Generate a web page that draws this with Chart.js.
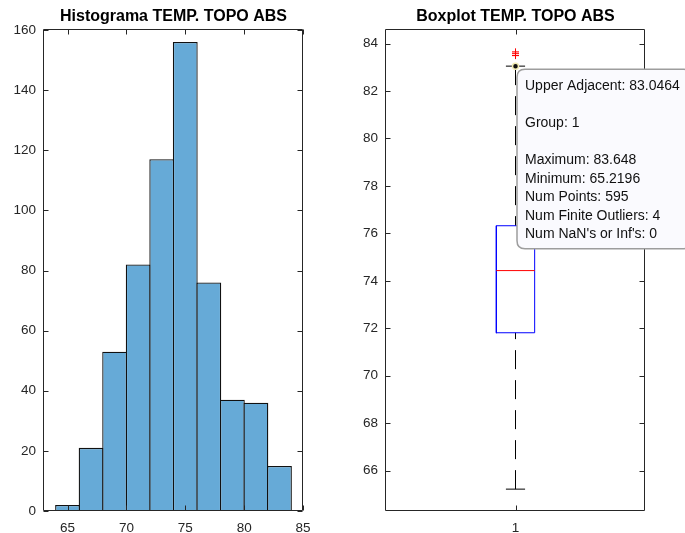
<!DOCTYPE html>
<html>
<head>
<meta charset="utf-8">
<title>TEMP. TOPO ABS</title>
<script src="https://cdn.jsdelivr.net/npm/chart.js@4.4.1/dist/chart.umd.min.js"></script>
<style>
  html, body { margin: 0; padding: 0; background: #ffffff; width: 685px; height: 533px; overflow: hidden; }
  #hist { position: absolute; left: 0; top: 0; }
  #box  { position: absolute; left: 340px; top: 0; }
</style>
</head>
<body>
<canvas id="hist" width="340" height="533"></canvas>
<canvas id="box" width="420" height="533"></canvas>
<script>
// ---- Histogram data ----
const binStarts = [64, 66, 68, 70, 72, 74, 76, 78, 80, 82];
const binWidth = 2;
const binCounts = [2, 21, 53, 82, 117, 156, 76, 37, 36, 15];
const histXTicks = [65, 70, 75, 80, 85];
const histYTicks = [0, 20, 40, 60, 80, 100, 120, 140, 160];
const histXRange = [63, 85];
const histYRange = [0, 160];

// ---- Boxplot data ----
const boxGroups = [1];
const boxQuartiles = [71.81, 74.43, 76.32];      // Q1, median, Q3
const whiskerEnds = [65.2196, 83.0464];           // lower / upper adjacent
const outlierValues = [83.648, 83.585, 83.50, 83.49];
const boxYTicks = [66, 68, 70, 72, 74, 76, 78, 80, 82, 84];
const boxYRange = [64.298, 84.569];
const boxXRange = [0.5, 1.5];

const FONT = "'Liberation Sans', Arial, Helvetica, sans-serif";
const AXIS_COLOR = '#262626';

Chart.defaults.font.family = FONT;

function fixedTicks(values) {
  return function (scale) { scale.ticks = values.map(v => ({ value: v })); };
}

// Box around the plot area with inward tick marks on all four sides
const frame = {
  id: 'frame',
  afterDatasetsDraw(chart, args, opts) {
    const { ctx, chartArea: a } = chart;
    const xs = chart.scales.x, ys = chart.scales.y;
    const snap = v => Math.round(v) - 0.5;
    const L = snap(a.left), R = snap(a.right), T = snap(a.top), B = snap(a.bottom);
    const len = opts.tickLength;
    ctx.save();
    ctx.strokeStyle = opts.color;
    ctx.lineWidth = 1;
    ctx.beginPath();
    ctx.rect(L, T, R - L, B - T);
    xs.ticks.forEach(t => {
      const x = snap(xs.getPixelForValue(t.value)) + 1;
      ctx.moveTo(x, B); ctx.lineTo(x, B - len);
      ctx.moveTo(x, T); ctx.lineTo(x, T + len);
    });
    ys.ticks.forEach(t => {
      const y = snap(ys.getPixelForValue(t.value)) + 1;
      ctx.moveTo(L, y); ctx.lineTo(L + len, y);
      ctx.moveTo(R, y); ctx.lineTo(R - len, y);
    });
    ctx.stroke();
    ctx.restore();
  }
};

const tickFont = { family: FONT, size: 13.5 };
const titleOpts = text => ({
  display: true,
  fullSize: false,
  text: text,
  color: '#000000',
  font: { family: FONT, size: 16, weight: 'bold', lineHeight: 1.2 },
  padding: { top: 7, bottom: 3.8 }
});

// ---- Histogram ----
new Chart(document.getElementById('hist'), {
  type: 'bar',
  data: {
    datasets: [{
      data: binStarts.map((s, i) => ({ x: s + binWidth / 2, y: binCounts[i] })),
      backgroundColor: '#66aad7',
      borderColor: '#111111',
      borderWidth: 1.3,
      barPercentage: 1.055,
      categoryPercentage: 1,
      inflateAmount: 0
    }]
  },
  options: {
    responsive: false,
    animation: false,
    events: [],
    layout: { padding: { left: 0, right: 37, top: 0, bottom: 0 } },
    plugins: {
      legend: { display: false },
      tooltip: { enabled: false },
      title: titleOpts('Histograma TEMP. TOPO ABS'),
      frame: { color: AXIS_COLOR, tickLength: 5 }
    },
    scales: {
      x: {
        type: 'linear', min: histXRange[0], max: histXRange[1], offset: false,
        grid: { display: false, drawTicks: false, offset: false },
        border: { display: false },
        ticks: { color: AXIS_COLOR, font: tickFont, padding: 9.5, autoSkip: false, maxRotation: 0 },
        afterBuildTicks: fixedTicks(histXTicks),
        afterFit: s => { s.height = 22; }
      },
      y: {
        type: 'linear', min: histYRange[0], max: histYRange[1],
        grid: { display: false, drawTicks: false },
        border: { display: false },
        ticks: { color: AXIS_COLOR, font: tickFont, padding: 8, autoSkip: false },
        afterBuildTicks: fixedTicks(histYTicks),
        afterFit: s => { s.width = 44; }
      }
    }
  },
  plugins: [frame]
});

// ---- Boxplot ----
const tipPlugin = Chart.Tooltip || Chart.registry.getPlugin('tooltip');
tipPlugin.positioners.datatip = function (items) {
  if (!items.length) return false;
  const el = items[0].element;
  return { x: el.x + 9.5, y: el.y + 3, xAlign: 'left', yAlign: 'top' };
};

const cx = boxGroups[0];
const halfBox = 0.074;
const halfCap = 0.037;
const [q1, med, q3] = boxQuartiles;
const [lowAdj, upAdj] = whiskerEnds;
const numPoints = binCounts.reduce((a, b) => a + b, 0);

const datatipLines = [
  'Upper Adjacent: ' + upAdj,
  '',
  'Group: ' + cx,
  '',
  'Maximum: ' + Math.max(...outlierValues),
  'Minimum: ' + lowAdj,
  'Num Points: ' + numPoints,
  'Num Finite Outliers: ' + outlierValues.length,
  "Num NaN's or Inf's: 0"
];

const lineSet = (label, pts, color, extra) => Object.assign({
  label: label, data: pts, showLine: true, borderColor: color, borderWidth: 1,
  pointRadius: 0, pointHoverRadius: 0, tension: 0, fill: false
}, extra || {});

const boxChart = new Chart(document.getElementById('box'), {
  type: 'scatter',
  data: {
    datasets: [
      {
        label: 'datatip', data: [{ x: cx, y: upAdj }], showLine: false,
        pointRadius: 3, pointBackgroundColor: '#111111',
        pointBorderColor: '#f2ecb4', pointBorderWidth: 1.5
      },
      {
        label: 'outliers', data: outlierValues.map(v => ({ x: cx, y: v })), showLine: false,
        pointStyle: 'cross', pointRadius: 3.5, pointBorderColor: '#ff0000',
        pointBackgroundColor: '#ff0000', pointBorderWidth: 1
      },
      lineSet('median', [{ x: cx - halfBox, y: med }, { x: cx + halfBox, y: med }], '#ff0000'),
      lineSet('box', [
        { x: cx - halfBox, y: q1 }, { x: cx + halfBox, y: q1 },
        { x: cx + halfBox, y: q3 }, { x: cx - halfBox, y: q3 },
        { x: cx - halfBox, y: q1 }
      ], '#0000ff', { borderCapStyle: 'square' }),
      lineSet('upper whisker', [{ x: cx, y: upAdj }, { x: cx, y: q3 }], '#000000', { borderDash: [19, 11] }),
      lineSet('lower whisker', [{ x: cx, y: lowAdj }, { x: cx, y: q1 }], '#000000', { borderDash: [19, 11] }),
      lineSet('upper cap', [{ x: cx - halfCap, y: upAdj }, { x: cx + halfCap, y: upAdj }], '#000000'),
      lineSet('lower cap', [{ x: cx - halfCap, y: lowAdj }, { x: cx + halfCap, y: lowAdj }], '#000000')
    ]
  },
  options: {
    responsive: false,
    animation: false,
    events: [],
    layout: { padding: { left: 0, right: 115, top: 0, bottom: 0 } },
    plugins: {
      legend: { display: false },
      title: titleOpts('Boxplot TEMP. TOPO ABS'),
      frame: { color: AXIS_COLOR, tickLength: 5 },
      tooltip: {
        enabled: true,
        position: 'datatip',
        displayColors: false,
        backgroundColor: '#fafafe',
        borderColor: '#9d9d9d',
        borderWidth: 1.5,
        cornerRadius: 8,
        caretSize: 0,
        caretPadding: 0,
        padding: { top: 8, bottom: 5, left: 8, right: 12 },
        bodyColor: '#111111',
        bodyFont: { family: FONT, size: 14, lineHeight: 1.3214 },
        bodySpacing: 0,
        callbacks: {
          title: () => [],
          label: () => datatipLines
        }
      }
    },
    scales: {
      x: {
        type: 'linear', min: boxXRange[0], max: boxXRange[1], offset: false,
        grid: { display: false, drawTicks: false },
        border: { display: false },
        ticks: { color: AXIS_COLOR, font: tickFont, padding: 9.5, autoSkip: false, maxRotation: 0 },
        afterBuildTicks: fixedTicks(boxGroups),
        afterFit: s => { s.height = 22; }
      },
      y: {
        type: 'linear', min: boxYRange[0], max: boxYRange[1],
        grid: { display: false, drawTicks: false },
        border: { display: false },
        ticks: { color: AXIS_COLOR, font: tickFont, padding: 8, autoSkip: false },
        afterBuildTicks: fixedTicks(boxYTicks),
        afterFit: s => { s.width = 46; }
      }
    }
  },
  plugins: [frame]
});

boxChart.tooltip.setActiveElements([{ datasetIndex: 0, index: 0 }], { x: 0, y: 0 });
boxChart.update();
</script>
</body>
</html>
